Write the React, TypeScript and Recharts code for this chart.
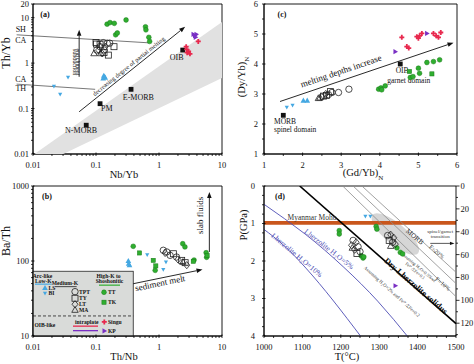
import React from 'react'
import {
  ComposedChart, Scatter, Line, XAxis, YAxis,
  ReferenceLine, ReferenceArea, ReferenceDot,
} from 'recharts'

const FONT = '"Liberation Serif", "Times New Roman", serif'
const GREEN = '#2fae2f'
const GREEN_D = '#187a18'
const BLUE = '#45a8e2'
const RED = '#e8294e'
const PURPLE = '#7a30c4'
const ORANGE = '#c9561c'
const LILAC = '#4d4db4'
const AX = { stroke: '#000', strokeWidth: 0.9 }

type Pt = [number, number]
const pts = (a: Pt[]) => a.map(([x, y]) => ({ x, y }))

// ---- (a) Nb/Yb vs Th/Yb ----
const aTT: Pt[] = [[0.15, 7.2], [0.167, 7.8], [0.195, 7.5], [0.3, 8.9], [0.205, 4.2], [0.218, 4.6], [0.61, 6.3], [0.62, 5.4], [0.69, 3.7], [0.71, 3.0]]
const aTPT: Pt[] = [[0.131, 2.82], [0.151, 2.73], [0.165, 2.75], [0.116, 2.3], [0.103, 1.94], [0.135, 1.94]]
const aTY: Pt[] = [[0.1, 2.85], [0.102, 2.63], [0.116, 2.6], [0.193, 2.3], [0.157, 1.5], [0.134, 1.7]]
const aLT: Pt[] = [[0.11, 1.94], [0.125, 1.64], [0.14, 2.3]]
const aMA: Pt[] = [[0.093, 1.64], [0.119, 1.64]]
const aLS: Pt[] = [[0.13, 0.46], [0.135, 0.5], [0.14, 0.48], [0.133, 0.53]]
const aBI: Pt[] = [[0.036, 0.49], [0.0215, 0.31], [0.027, 0.206]]
const aSingu: Pt[] = [[2.7, 2.3], [2.75, 2.0], [2.8, 1.7], [3.1, 1.6], [2.95, 1.8], [4.2, 3.0]]
const aKP: Pt[] = [[3.5, 4.3], [3.7, 4.0], [3.9, 4.3], [3.8, 3.7]]
const aRefNames = ['N-MORB', 'PM', 'E-MORB', 'OIB']
const aRefPts: Pt[] = [[0.07, 0.043], [0.116, 0.128], [0.36, 0.265], [2.38, 1.94]]
const aBandX = [0.01, 10]
const aBandLow = [0.0048, 0.47]
const aBandHigh = [0.0095, 8]
const aShCa: Pt[] = [[0.0055, 4.2], [0.68, 2.8]]
const aCaTh: Pt[] = [[0.0055, 0.345], [0.097, 0.265]]

// ---- (b) Th/Nb vs Ba/Th ----
const bTT: Pt[] = [[0.39, 157], [2.38, 170], [2.58, 154], [3.6, 103], [5.6, 129], [5.7, 112], [0.87, 75]]
const bTK: Pt[] = [[0.49, 128], [0.81, 102], [0.89, 86], [3.5, 99], [5.8, 118]]
const bLS: Pt[] = [[0.326, 100], [0.33, 92], [0.34, 88]]
const bBI: Pt[] = [[0.65, 121], [1.29, 97], [1.17, 77]]
const bTPT: Pt[] = [[1.17, 139], [1.33, 132], [1.5, 119], [1.9, 113]]
const bTY: Pt[] = [[1.69, 125], [2.29, 102], [2.6, 95]]
const bLT: Pt[] = [[1.25, 128], [2.0, 105], [2.76, 88]]
const bMA: Pt[] = [[2.4, 97]]

// ---- (c) (Gd/Yb)N vs (Dy/Yb)N ----
const cBI: Pt[] = [[1.59, 2.56], [1.74, 2.62]]
const cLS: Pt[] = [[2.02, 2.78], [2.12, 2.78]]
const cTPT: Pt[] = [[2.93, 3.05], [3.2, 3.16], [2.67, 2.98], [2.76, 3.05]]
const cTY: Pt[] = [[2.54, 2.93], [2.62, 2.95], [2.72, 3.08]]
const cLT: Pt[] = [[2.5, 2.9], [2.6, 3.0]]
const cMA: Pt[] = [[2.41, 2.86], [2.45, 2.88]]
const cTT: Pt[] = [[3.97, 3.16], [4.03, 3.2], [4.14, 3.27], [4.05, 3.14], [4.79, 3.55], [4.86, 3.58], [5.0, 3.86], [5.03, 3.69], [5.22, 4.05], [5.39, 4.08], [5.55, 4.14]]
const cTK: Pt[] = [[4.77, 3.75], [5.35, 3.67]]
const cSingu: Pt[] = [[4.57, 4.89], [4.7, 4.58], [4.75, 4.53], [4.96, 4.91], [5.0, 4.86], [5.03, 4.94], [5.09, 5.02], [5.39, 5.02], [5.46, 4.94], [5.58, 5.05], [5.52, 4.89]]
const cKP: Pt[] = [[5.22, 5.02], [4.4, 4.41]]
const cRefPts: Pt[] = [[1.5, 2.29], [4.53, 4.0]]

// ---- (d) T (°C) vs P (GPa) ----
const dTT: Pt[] = [[1196, 1.19], [1196, 1.28], [1292, 1.08], [1294, 1.15], [1253, 1.86], [1258, 1.92], [1260, 1.89], [1346, 1.65], [1355, 1.77], [1361, 1.81]]
const dBI: Pt[] = [[1264, 0.81], [1277, 0.81]]
const dKP: Pt[] = [[1342, 2.66]]
const dTPT: Pt[] = [[1232, 1.45], [1245, 1.62], [1250, 1.75], [1322, 1.32], [1335, 1.5]]
const dLT: Pt[] = [[1240, 1.5], [1228, 1.58], [1236, 1.7], [1330, 1.3], [1338, 1.38], [1342, 1.55]]
const dTY: Pt[] = [[1242, 1.8], [1326, 1.45]]
const dMA: Pt[] = [[1230, 1.65], [1330, 1.6]]
const dSolidus: Pt[] = [[1093, 0], [1500, 3.67]]
const dMeltLines: Pt[][] = [
  [[1205, 0], [1500, 2.95]],
  [[1232, 0], [1500, 2.6]],
  [[1255, 0], [1500, 2.3]],
]
const dWet5: Pt[] = [[999, 0.48], [1107, 1.28], [1206, 2.15], [1296, 3.07], [1377, 4.05]]
const dWet10: Pt[] = [[999, 1.15], [1051, 1.58], [1111, 2.21], [1179, 3.04], [1255, 4.05]]
const dMoho = [0.93, 1.03]
const dMorbT = [1281, 1403]
const dMorbP = [0.75, 1.81]
const dDepthKm = [0, 20, 40, 60, 80, 100, 120]
const KM_PER_GPA = 32.8

// pressure axis points downwards: plot -P and label |P|
const down = (a: Pt[]): Pt[] => a.map(([x, y]) => [x, -y])

// ---- ticks ----
function logTicks(lo: number, hi: number) {
  const out: number[] = []
  for (let d = Math.pow(10, Math.floor(Math.log10(lo))); d <= hi; d *= 10) {
    for (let k = 1; k < 10; k++) {
      const v = +(k * d).toPrecision(6)
      if (v >= lo * 0.9999 && v <= hi * 1.0001) out.push(v)
    }
  }
  return out
}
function range(lo: number, hi: number, step: number) {
  const out: number[] = []
  for (let v = lo; v <= hi + 1e-9; v += step) out.push(+v.toFixed(4) || 0)
  return out
}

type Side = 'bottom' | 'top' | 'left' | 'right'
type TickOpt = { label?: boolean; out?: boolean; dx?: number; fmt?: (v: number) => string }
function tickFn(side: Side, majors: number[], o: TickOpt = {}) {
  const { label = true, out = false, dx = 3, fmt = (v: number) => String(v) } = o
  const isMajor = (v: number) => majors.some((m) => Math.abs(v - m) <= Math.abs(m) * 1e-6 + 1e-9)
  return (p: any) => {
    const { x, y, payload } = p
    const v = Number(payload.value)
    const major = isMajor(v)
    const len = major ? 3.5 : 2
    const s = out ? -1 : 1
    const l =
      side === 'bottom' ? [x, y, x, y - s * len]
        : side === 'top' ? [x, y, x, y + s * len]
          : side === 'left' ? [x, y, x + s * len, y]
            : [x, y, x - s * len, y]
    let t: React.ReactNode = null
    if (label && major) {
      const common = { fontSize: 8.5, fontFamily: FONT, fill: '#111' }
      if (side === 'bottom') t = <text x={x} y={y + 12} textAnchor="middle" {...common}>{fmt(v)}</text>
      else if (side === 'left') t = <text x={x - dx} y={y + 3} textAnchor="end" {...common}>{fmt(v)}</text>
      else if (side === 'right') t = <text x={x + dx} y={y + 3} textAnchor="start" {...common}>{fmt(v)}</text>
    }
    return (
      <g>
        <line x1={l[0]} y1={l[1]} x2={l[2]} y2={l[3]} stroke="#000" strokeWidth={0.8} />
        {t}
      </g>
    )
  }
}

// ---- marks ----
const tri = (cx: number, cy: number, r: number, flip: boolean) => {
  const s = flip ? -1 : 1
  return `${cx},${cy - s * r} ${cx - r * 0.95},${cy + s * r * 0.7} ${cx + r * 0.95},${cy + s * r * 0.7}`
}
function Mark({ cx, cy, k }: { cx: number; cy: number; k: string }) {
  switch (k) {
    case 'TT': return <circle cx={cx} cy={cy} r={2.4} fill={GREEN} stroke={GREEN_D} strokeWidth={0.5} />
    case 'TK': return <rect x={cx - 2.1} y={cy - 2.1} width={4.2} height={4.2} fill={GREEN} stroke={GREEN_D} strokeWidth={0.5} />
    case 'LS': return <polygon points={tri(cx, cy, 3, false)} fill={BLUE} />
    case 'BI': return <polygon points={tri(cx, cy, 2.2, true)} fill={BLUE} />
    case 'TPT': return <circle cx={cx} cy={cy} r={3.2} fill="none" stroke="#222" strokeWidth={0.8} />
    case 'TY': return <rect x={cx - 3} y={cy - 3} width={6} height={6} fill="none" stroke="#222" strokeWidth={0.8} />
    case 'LT': return <polygon points={`${cx},${cy - 3.6} ${cx + 3},${cy} ${cx},${cy + 3.6} ${cx - 3},${cy}`} fill="none" stroke="#222" strokeWidth={0.8} />
    case 'MA': return <polygon points={tri(cx, cy, 3.4, false)} fill="none" stroke="#222" strokeWidth={0.8} />
    case 'SG': return <path d={`M${cx - 0.9},${cy - 2.5}h1.8v1.6h1.6v1.8h-1.6v1.6h-1.8v-1.6h-1.6v-1.8h1.6z`} fill={RED} />
    case 'KP': return <polygon points={`${cx + 2.8},${cy} ${cx - 1.8},${cy - 2.6} ${cx - 1.8},${cy + 2.6}`} fill={PURPLE} />
    case 'REF': return <rect x={cx - 2.4} y={cy - 2.4} width={4.8} height={4.8} fill="#111" />
    default: return null
  }
}
const sh = (k: string) => (p: any) => <Mark cx={p.cx} cy={p.cy} k={k} />
const series = (groups: [Pt[], string][]) =>
  groups.map(([d, k], i) => <Scatter key={k + i} data={pts(d)} shape={sh(k)} isAnimationActive={false} />)

// filled polygon through scatter vertices (scales come from the chart)
const polyLine = (fill: string) => (p: any) => (
  <polygon points={(p.points || []).map((q: any) => `${q.x},${q.y}`).join(' ')} fill={fill} stroke="none" />
)
const noDot = () => <g />

// ---- annotation helpers ----
type TxtOpt = { size?: number; angle?: number; anchor?: 'start' | 'middle' | 'end'; color?: string; bold?: boolean; dx?: number }
const txt = (s: string | string[], o: TxtOpt = {}) => {
  const { size = 8, angle = 0, anchor = 'middle', color = '#111', bold = false, dx = 0 } = o
  const lines = Array.isArray(s) ? s : [s]
  return (p: any) => {
    const x = p.cx + dx
    return (
      <text
        x={x} y={p.cy} textAnchor={anchor} fontSize={size} fontFamily={FONT} fill={color}
        fontWeight={bold ? 'bold' : 'normal'}
        transform={angle ? `rotate(${angle} ${x} ${p.cy})` : undefined}
      >
        {lines.map((l, i) => (
          <tspan key={i} x={x} dy={i === 0 ? `${0.35 - (lines.length - 1) * 0.55}em` : '1.1em'}>{l}</tspan>
        ))}
      </text>
    )
  }
}
const note = (x: number, y: number, s: string | string[], o: TxtOpt = {}) => (
  <ReferenceDot key={`${s}-${x}-${y}`} x={x} y={y} ifOverflow="visible" shape={txt(s, o)} />
)
const arrow = (color = '#111', w = 0.9, head = 6) => (p: any) => {
  const { x1, y1, x2, y2 } = p
  const a = Math.atan2(y2 - y1, x2 - x1)
  const bx = x2 - head * Math.cos(a)
  const by = y2 - head * Math.sin(a)
  const hw = head * 0.38
  const poly = `${x2},${y2} ${bx + hw * Math.sin(a)},${by - hw * Math.cos(a)} ${bx - hw * Math.sin(a)},${by + hw * Math.cos(a)}`
  return (
    <g>
      <line x1={x1} y1={y1} x2={bx} y2={by} stroke={color} strokeWidth={w} />
      <polygon points={poly} fill={color} />
    </g>
  )
}
const seg = (a: Pt[]) => a.map(([x, y]) => ({ x, y }))

// ---- frame: top + right tick axes and a box ----
function frame(xDom: number[], yDom: number[], xT: number[], yT: number[], xMaj: number[], yMaj: number[], log: [boolean, boolean]) {
  return [
    <XAxis key="xt" xAxisId="top" orientation="top" type="number" scale={log[0] ? 'log' : 'linear'} domain={xDom} ticks={xT}
      allowDataOverflow interval={0} tickSize={0} tickLine={false} height={0} axisLine={AX} tick={tickFn('top', xMaj, { label: false })} />,
    <YAxis key="yr" yAxisId="right" orientation="right" type="number" scale={log[1] ? 'log' : 'linear'} domain={yDom} ticks={yT}
      allowDataOverflow interval={0} tickSize={0} tickLine={false} width={0} axisLine={AX} tick={tickFn('right', yMaj, { label: false })} />,
    <ReferenceArea key="box" x1={xDom[0]} x2={xDom[1]} y1={yDom[0]} y2={yDom[1]} fill="none" stroke="#000" strokeWidth={0.9} ifOverflow="visible" />,
  ]
}

const DEC = [0.01, 0.1, 1, 10]
const logX = logTicks(0.01, 10)

function PanelA() {
  const band: Pt[] = [
    [aBandX[0], aBandLow[0]], [aBandX[1], aBandLow[1]],
    [aBandX[1], aBandHigh[1]], [aBandX[0], aBandHigh[0]],
  ]
  const yT = logTicks(0.01, 20)
  const yMaj = [0.01, 0.1, 1, 10, 20]
  const refLabel: Pt[] = [[0.058, 0.034], [0.148, 0.101], [0.47, 0.18], [1.91, 1.34]]
  return (
    <ComposedChart width={237} height={182} margin={{ top: 4, right: 15, bottom: 0, left: 0 }}>
      <XAxis type="number" dataKey="x" scale="log" domain={[0.01, 10]} ticks={logX} allowDataOverflow interval={0}
        tickSize={0} tickLine={false} height={28} axisLine={AX} tick={tickFn('bottom', DEC)} />
      <YAxis type="number" dataKey="y" scale="log" domain={[0.01, 20]} ticks={yT} allowDataOverflow interval={0}
        tickSize={0} tickLine={false} width={33} axisLine={AX} tick={tickFn('left', yMaj, { dx: 2 })} />
      <Scatter data={pts(band)} line={polyLine('#e1e1e1')} lineType="joint" shape={noDot} isAnimationActive={false} />
      {frame([0.01, 10], [0.01, 20], logX, yT, DEC, yMaj, [true, true])}
      <ReferenceLine segment={seg(aShCa)} stroke="#555" strokeWidth={0.8} ifOverflow="visible" />
      <ReferenceLine segment={seg(aCaTh)} stroke="#555" strokeWidth={0.8} ifOverflow="visible" />
      <ReferenceLine segment={[{ x: 0.054, y: 0.5 }, { x: 0.054, y: 5.4 }]} shape={arrow()} ifOverflow="visible" />
      <ReferenceLine segment={[{ x: 0.054, y: 0.085 }, { x: 2.6, y: 6.3 }]} shape={arrow()} ifOverflow="visible" />
      {note(0.0064, 5.5, 'SH', { size: 8 })}
      {note(0.0064, 3.2, 'CA', { size: 8 })}
      {note(0.0064, 0.45, 'CA', { size: 8 })}
      {note(0.0064, 0.28, 'TH', { size: 8 })}
      {note(0.046, 1.06, 'subduction', { size: 6, angle: 90 })}
      {note(0.0525, 1.06, 'enrichment', { size: 6, angle: 90 })}
      {note(0.33, 0.86, 'decreasing  degree of partial melting', { size: 6.3, angle: -38.7 })}
      {refLabel.map(([x, y], i) => note(x, y, aRefNames[i], { size: 8 }))}
      {series([[aRefPts, 'REF'], [aTT, 'TT'], [aTPT, 'TPT'], [aTY, 'TY'], [aLT, 'LT'], [aMA, 'MA'], [aLS, 'LS'], [aBI, 'BI'], [aSingu, 'SG'], [aKP, 'KP']])}
    </ComposedChart>
  )
}

const legendShape = (p: any) => {
  const { x, y, width, height } = p
  const t = (tx: number, ty: number, s: string, anchor: 'start' | 'middle' = 'start') => (
    <text x={tx} y={ty} textAnchor={anchor} fontSize={5.6} fontWeight="bold" fontFamily={FONT} fill="#111">{s}</text>
  )
  return (
    <g transform={`translate(${x},${y})`}>
      <rect x={0} y={0} width={width} height={height} fill="#d9dbd9" stroke="#222" strokeWidth={0.8} />
      {t(9.5, 6.4, 'Arc-like', 'middle')}
      {t(10.3, 11.4, 'Low-K', 'middle')}
      <line x1={2} y1={12.9} x2={18.7} y2={12.9} stroke={BLUE} strokeWidth={1.2} />
      <Mark cx={12} cy={16.7} k="LS" />{t(15.5, 18.7, 'LS')}
      <Mark cx={12} cy={22} k="BI" />{t(15.5, 24, 'BI')}
      {t(32, 13.5, 'Medium-K', 'middle')}
      <line x1={22} y1={15.4} x2={43.7} y2={15.4} stroke="#444" strokeWidth={1} />
      <Mark cx={42} cy={20.4} k="TPT" />{t(46, 22.4, 'TPT')}
      <Mark cx={42} cy={27} k="TY" />{t(46, 29, 'TY')}
      <Mark cx={42} cy={33} k="LT" />{t(46, 35, 'LT')}
      <Mark cx={42} cy={38.7} k="MA" />{t(46, 40.7, 'MA')}
      {t(75.5, 6.4, 'High-K to', 'middle')}
      {t(76.5, 11.7, 'Shoshonitic', 'middle')}
      <line x1={66} y1={13.9} x2={87} y2={13.9} stroke={GREEN} strokeWidth={1.2} />
      <Mark cx={71} cy={21} k="TT" />{t(75, 23, 'TT')}
      <Mark cx={71} cy={31} k="TK" />{t(75, 33, 'TK')}
      <line x1={0} y1={44.7} x2={width} y2={44.7} stroke="#222" strokeWidth={0.8} strokeDasharray="3 2" />
      {t(1.5, 55.7, 'OIB-like')}
      {t(53.7, 52.7, 'intraplate', 'middle')}
      <line x1={40} y1={54.9} x2={65} y2={54.9} stroke={RED} strokeWidth={1.3} />
      <line x1={40} y1={59.4} x2={65} y2={59.4} stroke={PURPLE} strokeWidth={1.3} />
      <Mark cx={71.3} cy={50.7} k="SG" />{t(75, 52.7, 'Singu')}
      <Mark cx={71.3} cy={59.7} k="KP" />{t(75, 61.7, 'KP')}
    </g>
  )
}

function PanelB() {
  const yT = logTicks(10, 1000)
  const yMaj = [10, 100, 1000]
  return (
    <ComposedChart width={237} height={182} margin={{ top: 4, right: 15, bottom: 0, left: 0 }}>
      <XAxis type="number" dataKey="x" scale="log" domain={[0.01, 10]} ticks={logX} allowDataOverflow interval={0}
        tickSize={0} tickLine={false} height={28} axisLine={AX} tick={tickFn('bottom', DEC)} />
      <YAxis type="number" dataKey="y" scale="log" domain={[10, 1000]} ticks={yT} allowDataOverflow interval={0}
        tickSize={0} tickLine={false} width={33} axisLine={AX} tick={tickFn('left', yMaj, { dx: 2 })} />
      {frame([0.01, 10], [10, 1000], logX, yT, DEC, yMaj, [true, true])}
      <ReferenceLine segment={[{ x: 6.3, y: 132 }, { x: 6.3, y: 832 }]} shape={arrow()} ifOverflow="visible" />
      <ReferenceLine segment={[{ x: 0.39, y: 49.8 }, { x: 4.9, y: 77 }]} shape={arrow()} ifOverflow="visible" />
      {note(4.48, 406, 'slab fluids', { size: 9, angle: -90 })}
      {note(1.04, 51, 'sediment melt', { size: 9, angle: -11.7 })}
      {series([[bTT, 'TT'], [bTK, 'TK'], [bLS, 'LS'], [bBI, 'BI'], [bTPT, 'TPT'], [bTY, 'TY'], [bLT, 'LT'], [bMA, 'MA']])}
      <ReferenceArea x1={0.01} x2={0.39} y1={10} y2={73} ifOverflow="visible" shape={legendShape} />
    </ComposedChart>
  )
}

function PanelC() {
  const t = range(1, 6, 0.5)
  const maj = range(1, 6, 1)
  return (
    <ComposedChart width={237} height={182} margin={{ top: 4, right: 17, bottom: 0, left: 0 }}>
      <XAxis type="number" dataKey="x" domain={[1, 6]} ticks={t} allowDataOverflow interval={0}
        tickSize={0} tickLine={false} height={28} axisLine={AX} tick={tickFn('bottom', maj)} />
      <YAxis type="number" dataKey="y" domain={[1, 6]} ticks={t} allowDataOverflow interval={0}
        tickSize={0} tickLine={false} width={27} axisLine={AX} tick={tickFn('left', maj, { dx: 6, label: false })} />
      {frame([1, 6], [1, 6], t, t, maj, maj, [false, false])}
      {maj.map((v) => note(1, v, String(v), { size: 8.5, anchor: 'end', dx: -6 }))}
      <ReferenceLine segment={[{ x: 1.415, y: 2.75 }, { x: 5.91, y: 4.71 }]} shape={arrow()} ifOverflow="visible" />
      {note(2.995, 3.77, 'melting depths increase', { size: 9, angle: -18.8 })}
      {note(1.26, 2.08, 'MORB', { size: 7.5, anchor: 'start' })}
      {note(1.26, 1.83, 'spinel domain', { size: 7.5, anchor: 'start' })}
      {note(4.41, 3.8, 'OIB', { size: 7.5, anchor: 'start' })}
      {note(4.19, 3.44, 'garnet domain', { size: 7.5, anchor: 'start' })}
      {series([[cRefPts, 'REF'], [cBI, 'BI'], [cLS, 'LS'], [cTPT, 'TPT'], [cTY, 'TY'], [cLT, 'LT'], [cMA, 'MA'], [cTT, 'TT'], [cTK, 'TK'], [cSingu, 'SG'], [cKP, 'KP']])}
    </ComposedChart>
  )
}

const ellipseShape = (p: any) => {
  const { x, y, width, height } = p
  const cx = x + width / 2
  const cy = y + height / 2
  const rx = Math.hypot(width, height) / 2 * 0.97
  return <ellipse cx={cx} cy={cy} rx={rx} ry={10.5} fill="#d6d6d6" transform={`rotate(40 ${cx} ${cy})`} />
}

const kmTick = (km: number, major: boolean) => (p: any) => (
  <g>
    <line x1={p.cx} y1={p.cy} x2={p.cx + (major ? 3.5 : 2)} y2={p.cy} stroke="#000" strokeWidth={0.8} />
    {major && <text x={p.cx + 4.5} y={p.cy + 3} fontSize={8.5} fontFamily={FONT} fill="#111">{km}</text>}
  </g>
)

function PanelD() {
  const xT = range(1000, 1500, 25)
  const xMaj = range(1000, 1500, 100)
  const yT = range(-4, 0, 0.25)
  const yMaj = range(-4, 0, 1)
  const kmAll = range(0, 130, 10)
  return (
    <ComposedChart width={237} height={182} margin={{ top: 4, right: 18, bottom: 0, left: 0 }}>
      <XAxis type="number" dataKey="x" domain={[1000, 1500]} ticks={xT} allowDataOverflow interval={0}
        tickSize={0} tickLine={false} height={28} axisLine={AX} tick={tickFn('bottom', xMaj)} />
      <YAxis type="number" dataKey="y" domain={[-4, 0]} ticks={yT} allowDataOverflow interval={0}
        tickSize={0} tickLine={false} width={27} axisLine={AX} tick={tickFn('left', yMaj, { label: false })} />
      <ReferenceArea x1={dMorbT[0]} x2={dMorbT[1]} y1={-dMorbP[1]} y2={-dMorbP[0]} shape={ellipseShape} ifOverflow="visible" />
      <ReferenceArea y1={-dMoho[1]} y2={-dMoho[0]} fill={ORANGE} fillOpacity={1} stroke="none" />
      {frame([1000, 1500], [-4, 0], xT, [], xMaj, [], [false, false])}
      {yMaj.map((v) => note(1000, v, String(Math.abs(v)), { size: 8.5, anchor: 'end', dx: -9 }))}
      {kmAll.map((km) => (
        <ReferenceDot key={`km${km}`} x={1500} y={-km / KM_PER_GPA} ifOverflow="visible"
          shape={kmTick(km, dDepthKm.includes(km))} />
      ))}
      {dMeltLines.map((l, i) => (
        <ReferenceLine key={i} segment={seg(down(l))} stroke="#8a8a8a" strokeWidth={0.8} ifOverflow="hidden" />
      ))}
      <ReferenceLine segment={seg(down(dSolidus))} stroke="#000" strokeWidth={1.6} ifOverflow="hidden" />
      <Line data={pts(down(dWet5))} dataKey="y" type="natural" stroke={LILAC} strokeWidth={0.9} dot={false} activeDot={false} isAnimationActive={false} />
      <Line data={pts(down(dWet10))} dataKey="y" type="natural" stroke={LILAC} strokeWidth={0.9} dot={false} activeDot={false} isAnimationActive={false} />
      <ReferenceLine segment={[{ x: 1433, y: -1.53 }, { x: 1496, y: -1.53 }]} shape={arrow('#111', 0.7, 4.5)} ifOverflow="visible" />
      {note(1125, -0.84, 'Myanmar Moho', { size: 7.5, color: '#333' })}
      {note(1170, -1.68, 'Lherzolite H₂O=5%', { size: 7.5, angle: 38, color: LILAC })}
      {note(1086, -1.84, 'Lherzolite H₂O=10%', { size: 7.5, angle: 40, color: LILAC })}
      {note(1396, -2.66, 'Dry Lherzolite solidus', { size: 8.5, angle: 41, bold: true })}
      {note(1393, -1.35, 'MORB', { size: 7, angle: 40, color: '#333' })}
      {note(1450, -1.75, 'F=20%', { size: 6, angle: 40, color: '#333' })}
      {note(1466, -2.61, 'F=10%', { size: 6, angle: 40, color: '#333' })}
      {note(1459, -1.27, ['spinel/garnet', 'transition'], { size: 5, color: '#333' })}
      {note(1398, -2.21, ['Assuming H₂O=0.5%wt', 'Fe³⁺/ΣFe=0.1'], { size: 4.5, angle: 40, color: '#333' })}
      {note(1333, -2.81, 'Assuming H₂O=2% and Fe³⁺/ΣFe=0.2', { size: 4.8, angle: 42, color: '#333' })}
      {series([[down(dTT), 'TT'], [down(dBI), 'BI'], [down(dKP), 'KP'], [down(dTPT), 'TPT'], [down(dLT), 'LT'], [down(dTY), 'TY'], [down(dMA), 'MA']])}
    </ComposedChart>
  )
}

function Title({ x, y, rot = 0, size = 10.5, bold = false, children }: { x: number; y: number; rot?: number; size?: number; bold?: boolean; children: React.ReactNode }) {
  return (
    <div style={{
      position: 'absolute', left: x, top: y, transform: `translate(-50%, -50%) rotate(${rot}deg)`,
      fontSize: size, fontWeight: bold ? 700 : 400, whiteSpace: 'nowrap', lineHeight: 1, color: '#111',
    }}>{children}</div>
  )
}

export default function App() {
  return (
    <div style={{ position: 'fixed', left: 0, top: 0, width: 474, height: 364, background: '#fff', fontFamily: FONT, overflow: 'hidden' }}>
      <div style={{ position: 'absolute', left: 0, top: 0 }}><PanelA /></div>
      <div style={{ position: 'absolute', left: 237, top: 0 }}><PanelC /></div>
      <div style={{ position: 'absolute', left: 0, top: 182 }}><PanelB /></div>
      <div style={{ position: 'absolute', left: 237, top: 182 }}><PanelD /></div>
      <Title x={6} y={53} rot={-90} size={12}>Th/Yb</Title>
      <Title x={124} y={175}>Nb/Yb</Title>
      <Title x={6} y={241} rot={-90} size={12}>Ba/Th</Title>
      <Title x={124} y={357}>Th/Nb</Title>
      <Title x={244} y={77} rot={-90}>(Dy/Yb)<sub style={{ fontSize: 7 }}>N</sub></Title>
      <Title x={363} y={175}>(Gd/Yb)<sub style={{ fontSize: 7 }}>N</sub></Title>
      <Title x={244} y={225} rot={-90}>P(GPa)</Title>
      <Title x={347} y={357}>T(°C)</Title>
      <Title x={45} y={15} size={8} bold>(a)</Title>
      <Title x={47} y={197} size={8} bold>(b)</Title>
      <Title x={282} y={15} size={8} bold>(c)</Title>
      <Title x={280} y={197} size={8} bold>(d)</Title>
    </div>
  )
}
